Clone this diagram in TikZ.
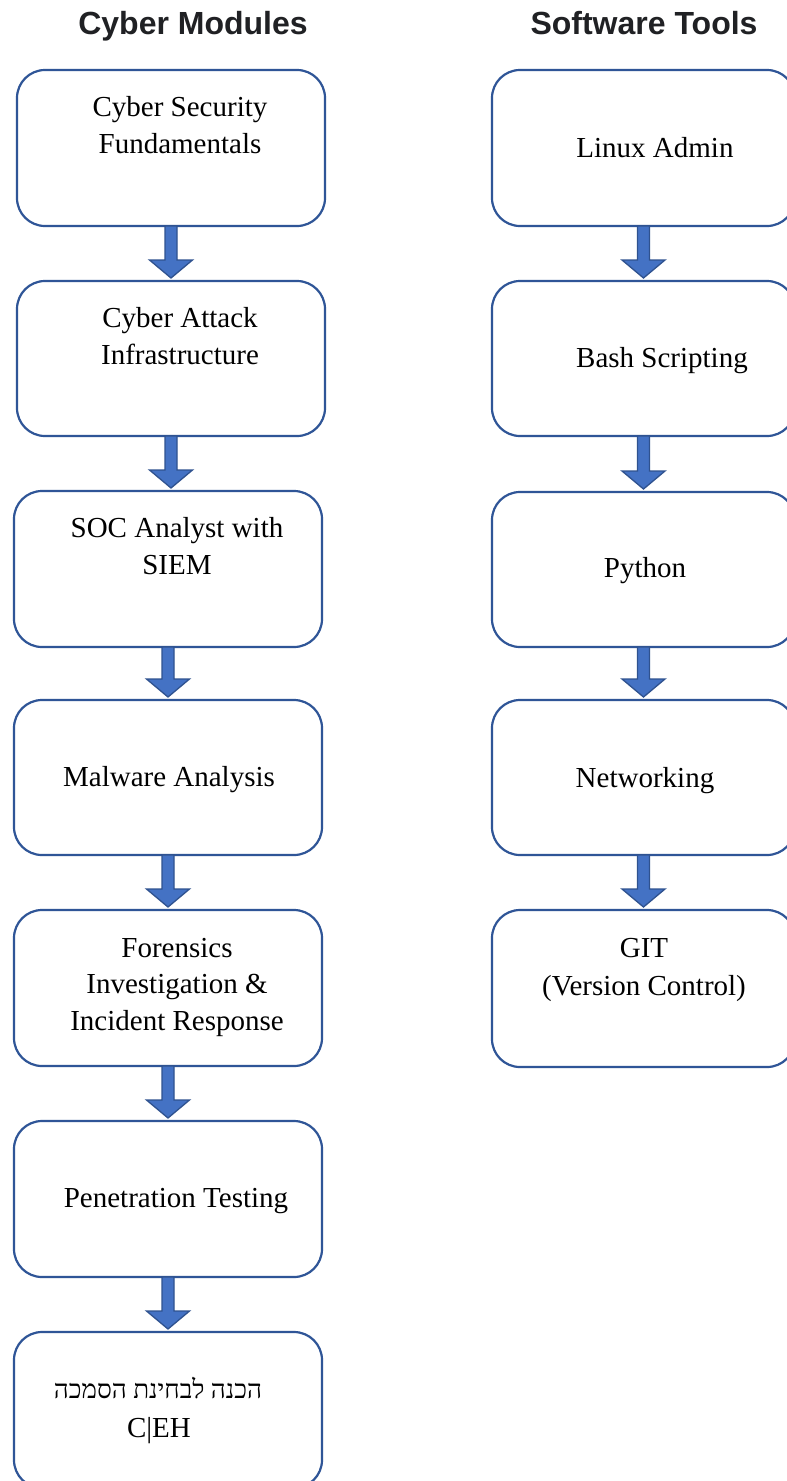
\documentclass[tikz,border=0pt]{standalone}
\usepackage{fontspec}
\setmainfont{Liberation Serif}
\newfontfamily\headfont{Liberation Sans}
\newfontfamily\hebfont[Script=Hebrew]{Liberation Serif}
\TeXXeTstate=1
\usetikzlibrary{calc}
\definecolor{boxblue}{HTML}{2F5597}
\definecolor{arrfill}{HTML}{4472C4}
\definecolor{arrline}{HTML}{2F528F}
\definecolor{headgray}{HTML}{202124}
\tikzset{
  box/.style={draw=boxblue, line width=2.2pt, rounded corners=28pt, fill=white,
    rectangle, inner sep=0pt, outer sep=0pt},
  lbl/.style={anchor=base, inner sep=0pt, font=\fontsize{29}{37}\selectfont, text=black},
  heading/.style={anchor=base, inner sep=0pt, font=\headfont\bfseries\fontsize{32}{38}\selectfont, text=headgray},
  blockarr/.style={fill=arrfill, draw=arrline, line width=1.3pt, line join=miter}
}
\newcommand\blockarrow[2]{%
  \draw[blockarr] let \p1=(#1.south), \p2=(#2.north) in
    (\x1-6pt,\y1) -- (\x1+6pt,\y1) -- (\x1+6pt,\y2+21pt) -- (\x1+21.5pt,\y2+21pt)
    -- (\x1,\y2+3pt) -- (\x1-21.5pt,\y2+21pt) -- (\x1-6pt,\y2+21pt) -- cycle;}
\begin{document}
\begin{tikzpicture}[x=1pt,y=-1pt]
\useasboundingbox (0,0) rectangle (787,1481);
\clip (0,0) rectangle (787,1481);
\fill[white] (0,0) rectangle (787,1481);

% headings
\node[heading] (h1) at (193,34) {Cyber Modules};
\node[heading] (h2) at (644,34) {Software Tools};

% left column boxes
\node[box, minimum width=308pt, minimum height=156pt] (l1) at (171,148) {};
\node[box, minimum width=308pt, minimum height=155pt] (l2) at (171,358.5) {};
\node[box, minimum width=308pt, minimum height=156pt] (l3) at (168,569) {};
\node[box, minimum width=308pt, minimum height=155pt] (l4) at (168,777.5) {};
\node[box, minimum width=308pt, minimum height=156pt] (l5) at (168,988) {};
\node[box, minimum width=308pt, minimum height=156pt] (l6) at (168,1199) {};
\node[box, minimum width=308pt, minimum height=156pt] (l7) at (168,1410) {};

% right column boxes
\node[box, minimum width=303pt, minimum height=156pt] (r1) at (643.5,148) {};
\node[box, minimum width=303pt, minimum height=155pt] (r2) at (643.5,358.5) {};
\node[box, minimum width=303pt, minimum height=155pt] (r3) at (643.5,569.5) {};
\node[box, minimum width=303pt, minimum height=155pt] (r4) at (643.5,777.5) {};
\node[box, minimum width=303pt, minimum height=157pt] (r5) at (643.5,988.5) {};

% arrows
\blockarrow{l1}{l2}
\blockarrow{l2}{l3}
\blockarrow{l3}{l4}
\blockarrow{l4}{l5}
\blockarrow{l5}{l6}
\blockarrow{l6}{l7}
\blockarrow{r1}{r2}
\blockarrow{r2}{r3}
\blockarrow{r3}{r4}
\blockarrow{r4}{r5}

% left texts
\node[lbl] (t1a) at (180,116) {Cyber Security};
\node[lbl] (t1b) at (180,153) {Fundamentals};
\node[lbl] (t2a) at (180,327) {Cyber Attack};
\node[lbl] (t2b) at (180,364) {Infrastructure};
\node[lbl] (t3a) at (177,537) {SOC Analyst with};
\node[lbl] (t3b) at (177,574) {SIEM};
\node[lbl] (t4a) at (169,786) {Malware Analysis};
\node[lbl] (t5a) at (177,957) {Forensics};
\node[lbl] (t5b) at (177,993) {Investigation \&};
\node[lbl] (t5c) at (177,1030) {Incident Response};
\node[lbl] (t6a) at (176,1207) {Penetration Testing};
\node[lbl, font=\hebfont\fontsize{26}{37}\selectfont] (t7a) at (158,1398) {\beginR הכנה לבחינת הסמכה\endR};
\node[lbl] (t7b) at (159,1437) {C|EH};

% right texts
\node[lbl] (s1) at (655,157) {Linux Admin};
\node[lbl] (s2) at (662,367) {Bash Scripting};
\node[lbl] (s3) at (645,577) {Python};
\node[lbl] (s4) at (645,787) {Networking};
\node[lbl] (s5a) at (644,957) {GIT};
\node[lbl] (s5b) at (644,995) {(Version Control)};
\end{tikzpicture}
\end{document}
